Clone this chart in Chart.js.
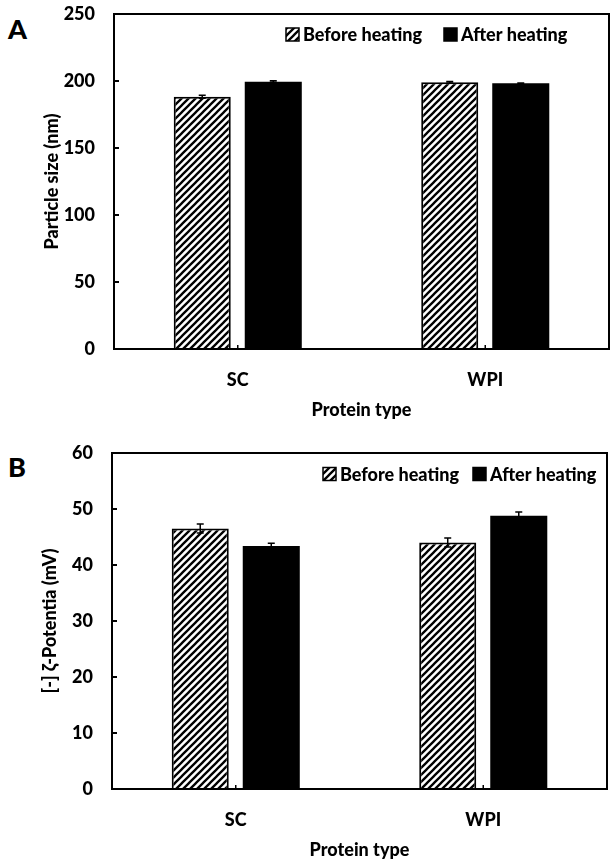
<!DOCTYPE html>
<html><head><meta charset="utf-8">
<script src="https://cdn.jsdelivr.net/npm/chart.js@4.4.1/dist/chart.umd.min.js"></script>
<style>
html,body{margin:0;padding:0;background:#fff;width:610px;height:861px;overflow:hidden;}
.panel{position:absolute;left:0;width:610px;height:421px;}
.lab{position:absolute;left:8px;font:900 27px Lato,sans-serif;color:#000;line-height:27px;}
</style></head><body>
<div class="lab" style="top:15px">A</div>
<div class="panel" style="top:0"><canvas id="cA" width="610" height="421"></canvas></div>
<div class="lab" style="top:453px">B</div>
<div class="panel" style="top:440px"><canvas id="cB" width="610" height="421"></canvas></div>
<script>
// ---- data ----
const categories = ['SC', 'WPI'];
const seriesNames = ['Before heating', 'After heating'];
const xTitle = 'Protein type';
const sizeTitle = 'Particle size (nm)';
const zetaTitle = '[-] ζ-Potentia (mV)';
const sizeBefore = [188.3, 199.0];
const sizeAfter = [199.5, 198.3];
const sizeErrBefore = [1.1, 0.7];
const sizeErrAfter = [0.7, 0.3];
const zetaBefore = [46.5, 44.0];
const zetaAfter = [43.4, 48.8];
const zetaErrBefore = [0.8, 0.8];
const zetaErrAfter = [0.5, 0.65];
const sizeTicks = [0, 50, 100, 150, 200, 250];
const zetaTicks = [0, 10, 20, 30, 40, 50, 60];

const FONT = "Lato, sans-serif";
const FS = 18;
const FW = 900;

function hatch() {
  const c = document.createElement('canvas'); const s = 7;
  c.width = s; c.height = s;
  const g = c.getContext('2d');
  g.fillStyle = '#fff'; g.fillRect(0, 0, s, s);
  g.strokeStyle = '#000'; g.lineWidth = 2.3; g.lineCap = 'square';
  g.beginPath();
  g.moveTo(0, s); g.lineTo(s, 0);
  g.moveTo(-1, 1); g.lineTo(1, -1);
  g.moveTo(s - 1, s + 1); g.lineTo(s + 1, s - 1);
  g.stroke();
  return g.createPattern(c, 'repeat');
}

const decor = {
  id: 'decor',
  afterDatasetsDraw(chart, args, opts) {
    const ctx = chart.ctx, ys = chart.scales.y, xs = chart.scales.x, a = chart.chartArea;
    ctx.save();
    ctx.strokeStyle = '#000';
    // error bars
    ctx.lineWidth = 1.5;
    chart.data.datasets.forEach((ds, i) => {
      const meta = chart.getDatasetMeta(i);
      meta.data.forEach((bar, j) => {
        const v = ds.data[j], e = ds.err[j];
        const y1 = ys.getPixelForValue(v + e), y2 = ys.getPixelForValue(v - e);
        ctx.beginPath();
        ctx.moveTo(bar.x, y1); ctx.lineTo(bar.x, y2);
        ctx.moveTo(bar.x - 3.5, y1); ctx.lineTo(bar.x + 3.5, y1);
        ctx.moveTo(bar.x - 3.5, y2); ctx.lineTo(bar.x + 3.5, y2);
        ctx.stroke();
      });
    });
    // frame
    ctx.lineWidth = 2;
    ctx.strokeRect(a.left, a.top, a.right - a.left, a.bottom - a.top);
    // inward y ticks
    ys.ticks.forEach(t => {
      const y = ys.getPixelForValue(t.value);
      ctx.beginPath(); ctx.moveTo(a.left, y); ctx.lineTo(a.left + 5, y); ctx.stroke();
    });
    // small x ticks at category centres
    ctx.lineWidth = 1.5;
    categories.forEach((c, j) => {
      const x = xs.getPixelForValue(j);
      ctx.beginPath(); ctx.moveTo(x, a.bottom); ctx.lineTo(x, a.bottom - 4); ctx.stroke();
    });
    // legend
    const L = opts.legend;
    ctx.font = FW + ' ' + FS + 'px ' + FONT;
    ctx.textBaseline = 'middle'; ctx.textAlign = 'left'; ctx.fillStyle = '#000';
    let x = L.x;
    chart.data.datasets.forEach((ds, i) => {
      const b = 13;
      ctx.fillStyle = ds.backgroundColor;
      ctx.fillRect(x, L.y - b / 2, b, b);
      ctx.lineWidth = 1.5;
      ctx.strokeRect(x, L.y - b / 2, b, b);
      ctx.fillStyle = '#000';
      ctx.fillText(ds.label, x + b + 4, L.y + 1);
      x += b + 4 + ctx.measureText(ds.label).width + L.gap;
    });
    ctx.restore();
  }
};

function make(id, before, after, errB, errA, ticks, yTitle, g) {
  const pat = hatch();
  const f = { family: FONT, size: FS, weight: FW };
  return new Chart(document.getElementById(id), {
    type: 'bar',
    data: {
      labels: categories,
      datasets: [
        { label: seriesNames[0], data: before, err: errB, backgroundColor: pat, borderColor: '#000', borderWidth: 2,
          categoryPercentage: 0.574, barPercentage: 0.803 },
        { label: seriesNames[1], data: after, err: errA, backgroundColor: '#000', borderColor: '#000', borderWidth: 0,
          categoryPercentage: 0.574, barPercentage: 0.803 }
      ]
    },
    options: {
      responsive: false, animation: false, devicePixelRatio: 1,
      layout: { padding: { top: g.top, right: g.right, left: 0, bottom: 0 } },
      plugins: { legend: { display: false }, tooltip: { enabled: false }, decor: { legend: g.legend } },
      scales: {
        x: {
          grid: { display: false, drawTicks: false }, border: { display: false },
          ticks: { color: '#000', font: f, padding: 20 },
          title: { display: true, text: xTitle, color: '#000', font: f, padding: { top: 0, bottom: 0 } },
          afterFit: s => { s.height = 72; s.paddingLeft = 0; s.paddingRight = 0; }
        },
        y: {
          min: ticks[0], max: ticks[ticks.length - 1],
          grid: { display: false, drawTicks: false }, border: { display: false },
          afterBuildTicks: s => { s.ticks = ticks.map(v => ({ value: v })); },
          ticks: { color: '#000', font: f, padding: 19 },
          title: { display: true, text: yTitle, color: '#000', font: f, padding: { top: g.ytp, bottom: 0 } },
          afterFit: s => { s.width = g.left; s.paddingTop = 0; s.paddingBottom = 0; }
        }
      }
    },
    plugins: [decor]
  });
}

make('cA', sizeBefore, sizeAfter, sizeErrBefore, sizeErrAfter, sizeTicks, sizeTitle,
  { top: 14, right: 1, left: 114, ytp: 41, legend: { x: 286, y: 34.5, gap: 22 } });
make('cB', zetaBefore, zetaAfter, zetaErrBefore, zetaErrAfter, zetaTicks, zetaTitle,
  { top: 13, right: 3, left: 112, ytp: 39, legend: { x: 323, y: 34, gap: 14 } });
</script>
</body></html>
